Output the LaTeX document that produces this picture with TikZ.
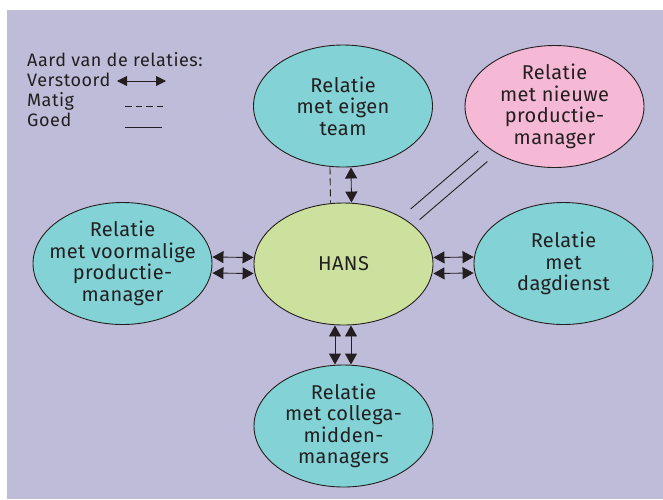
\documentclass[tikz,border=0pt]{standalone}
\usepackage{fontspec}
\setmainfont{Fira Sans}
\usepackage{tikz}
\usetikzlibrary{shapes.geometric,arrows.meta}
\definecolor{paars}{RGB}{191,188,217}
\definecolor{turkoois}{RGB}{130,210,214}
\definecolor{roze}{RGB}{245,184,213}
\definecolor{lichtgroen}{RGB}{203,225,157}
\definecolor{inkt}{RGB}{35,31,32}
\tikzstyle{relatie}=[ellipse, draw=inkt, line width=0.9pt, fill=turkoois, minimum width=179pt, minimum height=122pt, inner xsep=-12pt, inner ysep=-2pt, align=center, text=inkt, font=\fontsize{20}{21.5}\selectfont\addfontfeature{LetterSpace=2}]
\tikzstyle{nieuwe relatie}=[relatie, fill=roze]
\tikzstyle{hans vertex}=[relatie, fill=lichtgroen]
\tikzstyle{legenda}=[anchor=base west, inner sep=0pt, text=inkt, font=\fontsize{18}{20}\selectfont\addfontfeature{LetterSpace=3}]
\tikzstyle{verstoord}=[draw=inkt, line width=0.9pt, arrows={Triangle[length=11pt,width=12pt]-Triangle[length=11pt,width=12pt]}]
\tikzstyle{matig}=[draw=inkt, line width=0.9pt, dash pattern=on 7pt off 4pt]
\tikzstyle{goed}=[draw=inkt, line width=0.9pt, shorten <=10pt, shorten >=10pt]

\begin{document}
\begin{tikzpicture}[x=1pt, y=-1pt]
\useasboundingbox (0,0) rectangle (663,499);
\fill[white] (0,0) rectangle (663,499);
\fill[paars] (7,10) rectangle (663,499);

% legenda
\node[legenda] (aard)  at (27,66)    {Aard van de relaties:};
\node[legenda] (verst) at (27,86)    {Verstoord};
\node[legenda] (matig) at (27,106.5) {Matig};
\node[legenda] (goed)  at (27,126.5) {Goed};
\coordinate (v0) at (117,81);    \coordinate (v1) at (166,81);
\coordinate (m0) at (125,106.5); \coordinate (m1) at (163,106.5);
\coordinate (g0) at (125,127);   \coordinate (g1) at (162,127);
\draw[draw=inkt, line width=0.9pt, arrows={Triangle[length=10pt,width=10pt]-Triangle[length=10pt,width=10pt]}] (v0) -- (v1);
\draw[draw=inkt, line width=0.9pt, dash pattern=on 6.5pt off 4pt] (m0) -- (m1);
\draw[draw=inkt, line width=0.9pt] (g0) -- (g1);

% relaties
\node[relatie]        (team)      at (343,106)     {Relatie\\met eigen\\team};
\node[nieuwe relatie] (nieuw)     at (554.5,106.5) {Relatie\\met nieuwe\\productie-\\manager};
\node[relatie]        (voormalig) at (122.5,263.5) {Relatie\\met voormalige\\productie-\\manager};
\node[hans vertex]    (hans)      at (343.5,264)   {HANS};
\node[relatie]        (dag)       at (563.5,263.5) {Relatie\\met\\dagdienst};
\node[relatie]        (collega)   at (343.5,426)   {Relatie\\met collega-\\midden-\\managers};

\draw[matig] ([xshift=-13pt]team.south) -- ([xshift=-13pt]hans.north);
\draw[verstoord] ([xshift=8pt]team.south) -- ([xshift=8pt]hans.north);
\draw[verstoord] ([yshift=6.5pt]voormalig.east) -- ([yshift=6.5pt]hans.west);
\draw[verstoord] ([yshift=-9.5pt]voormalig.east) -- ([yshift=-9.5pt]hans.west);
\draw[verstoord] ([yshift=6.5pt]hans.east) -- ([yshift=6.5pt]dag.west);
\draw[verstoord] ([yshift=-9.5pt]hans.east) -- ([yshift=-9.5pt]dag.west);
\draw[verstoord] ([xshift=-8.5pt]hans.south) -- ([xshift=-8.5pt]collega.north);
\draw[verstoord] ([xshift=7.5pt]hans.south) -- ([xshift=7.5pt]collega.north);
\draw[goed, transform canvas={xshift=-4.5pt, yshift=5.3pt}] (hans.34) -- (nieuw.214);
\draw[goed, transform canvas={xshift=4.5pt, yshift=-5.3pt}] (hans.34) -- (nieuw.214);
\end{tikzpicture}
\end{document}
